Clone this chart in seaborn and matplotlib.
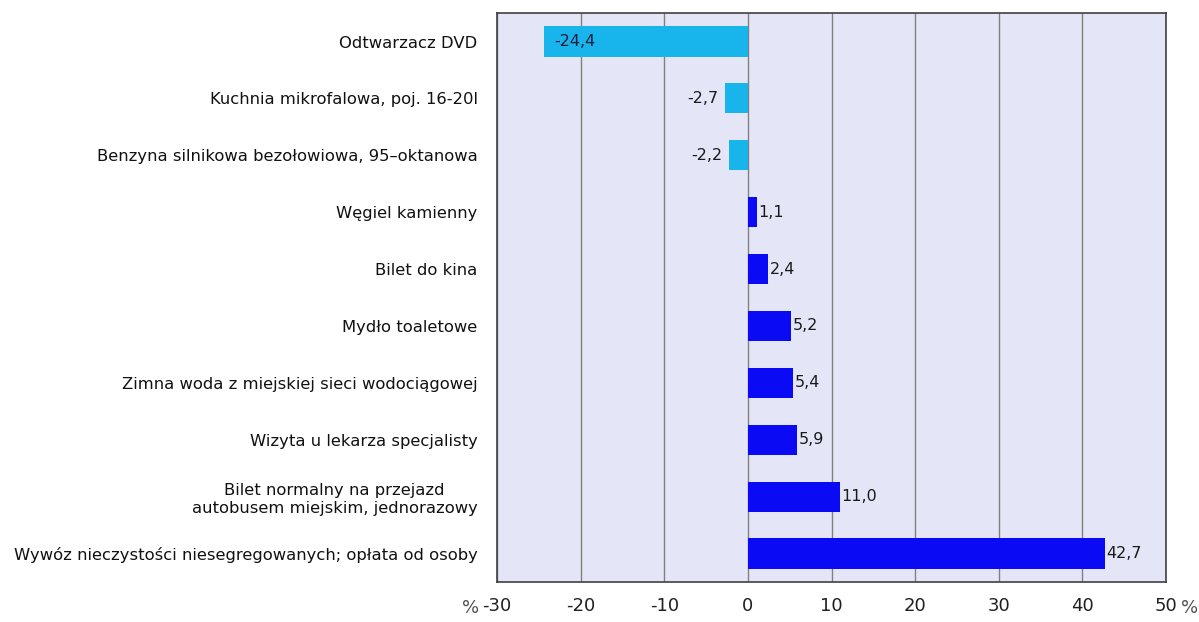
import matplotlib
matplotlib.use('Agg')
import matplotlib.pyplot as plt
import seaborn as sns
import pandas as pd

# data
products = [
    'Odtwarzacz DVD',
    'Kuchnia mikrofalowa, poj. 16-20l',
    'Benzyna silnikowa bezołowiowa, 95–oktanowa',
    'Węgiel kamienny',
    'Bilet do kina',
    'Mydło toaletowe',
    'Zimna woda z miejskiej sieci wodociągowej',
    'Wizyta u lekarza specjalisty',
    'Bilet normalny na przejazd\nautobusem miejskim, jednorazowy',
    'Wywóz nieczystości niesegregowanych; opłata od osoby',
]
changes = [-24.4, -2.7, -2.2, 1.1, 2.4, 5.2, 5.4, 5.9, 11.0, 42.7]
x_ticks = [-30, -20, -10, 0, 10, 20, 30, 40, 50]

df = pd.DataFrame({'product': products, 'change': changes})
df['sign'] = ['neg' if v < 0 else 'pos' for v in changes]

sns.set_style('white')
plt.rcParams['font.family'] = ['DejaVu Sans']

fig = plt.figure(figsize=(11.99, 6.22), dpi=100)
ax = fig.add_axes([0.4145, 0.0643, 0.558, 0.9147])
ax.set_facecolor('#E4E6F8')

sns.barplot(data=df, x='change', y='product', hue='sign', dodge=False,
            palette={'neg': '#18B4EC', 'pos': '#0A0AF5'}, saturation=1,
            width=0.53, linewidth=0, orient='h', legend=False, ax=ax, zorder=3)

ax.set_xlim(-30, 50)
ax.set_ylim(len(products) - 0.5, -0.5)
ax.set_xticks(x_ticks)
ax.set_xticklabels([str(t) for t in x_ticks], fontsize=13)
ax.xaxis.grid(True, color='#808080', linewidth=1, zorder=0)
ax.set_axisbelow(True)
ax.tick_params(axis='x', length=5, color='#808080', pad=6, labelcolor='#202020')
ax.tick_params(axis='y', length=0, labelsize=11.8, pad=14, labelcolor='#111111')
for lbl in ax.get_yticklabels():
    lbl.set_horizontalalignment('right')
    lbl.set_multialignment('center')
for s in ax.spines.values():
    s.set_color('#404040')
    s.set_linewidth(1.2)
ax.set_xlabel('')
ax.set_ylabel('')

# value labels
for i, v in enumerate(changes):
    txt = f'{v:.1f}'.replace('.', ',')
    if v < -10:
        ax.text(v + 1.2, i, txt, va='center', ha='left', fontsize=11.5, color='#1a1a3a')
    elif v < 0:
        ax.text(v - 0.8, i, txt, va='center', ha='right', fontsize=11.5, color='#1a1a1a')
    else:
        ax.text(v + 0.2, i, txt, va='center', ha='left', fontsize=11.5, color='#1a1a1a')

for xp in (-33.2, 52.8):
    ax.text(xp, len(products) - 0.2, '%', ha='center', va='top', fontsize=13,
            color='#505050', clip_on=False)

fig.savefig('out.png', dpi=100)
